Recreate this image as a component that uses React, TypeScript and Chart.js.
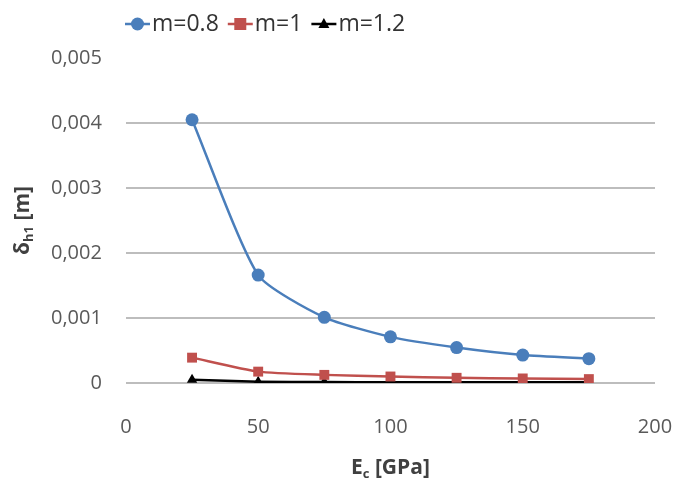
import React, { useEffect, useRef } from "react";
import { Chart, registerables } from "chart.js";

Chart.register(...registerables);

const xValues = [25, 50, 75, 100, 125, 150, 175];
const seriesM08 = [0.00405, 0.00166, 0.00101, 0.00071, 0.000545, 0.00043, 0.000375];
const seriesM1 = [0.00039, 0.000175, 0.000125, 0.0001, 0.00008, 0.00007, 0.00006];
const seriesM12 = [0.00005, 0.00002, 0.000015, 0.000012, 0.00001, 0.00001, 0.00001];
const seriesLabels = ["m=0.8", "m=1", "m=1.2"];
const yTicks = [0, 0.001, 0.002, 0.003, 0.004, 0.005];
const xTicks = [0, 50, 100, 150, 200];

const FONT = "'Open Sans', 'DejaVu Sans', sans-serif";
const BLUE = "#4A7EBB";
const RED = "#C0504D";
const BLACK = "#000000";

function drawMarker(ctx: CanvasRenderingContext2D, style: string, x: number, y: number, color: string) {
  ctx.save();
  ctx.fillStyle = color;
  ctx.beginPath();
  if (style === "circle") {
    ctx.arc(x, y, 6.5, 0, Math.PI * 2);
  } else if (style === "rect") {
    ctx.rect(x - 6, y - 6, 12, 12);
  } else {
    ctx.moveTo(x, y - 6);
    ctx.lineTo(x + 5.5, y + 4);
    ctx.lineTo(x - 5.5, y + 4);
    ctx.closePath();
  }
  ctx.fill();
  ctx.restore();
}

const customPlugin = {
  id: "customDecor",
  afterDraw(chart: any) {
    const ctx: CanvasRenderingContext2D = chart.ctx;
    const area = chart.chartArea;
    ctx.save();
    const items = [
      { label: seriesLabels[0], color: BLUE, style: "circle" },
      { label: seriesLabels[1], color: RED, style: "rect" },
      { label: seriesLabels[2], color: BLACK, style: "triangle" },
    ];
    ctx.font = `23px ${FONT}`;
    ctx.textBaseline = "middle";
    let x = 125;
    const ly = 24;
    for (const it of items) {
      ctx.strokeStyle = it.color;
      ctx.lineWidth = 2.5;
      ctx.beginPath();
      ctx.moveTo(x, ly);
      ctx.lineTo(x + 25, ly);
      ctx.stroke();
      drawMarker(ctx, it.style, x + 12.5, ly, it.color);
      ctx.fillStyle = "#333333";
      ctx.textAlign = "left";
      ctx.fillText(it.label, x + 27, ly);
      x += 27 + ctx.measureText(it.label).width + 9;
    }
    // x title
    ctx.fillStyle = "#404040";
    ctx.font = `bold 21px ${FONT}`;
    const cx = (area.left + area.right) / 2;
    const ty = 467;
    const wE = ctx.measureText("E").width;
    ctx.font = `bold 13px ${FONT}`;
    const wc = ctx.measureText("c").width;
    ctx.font = `bold 21px ${FONT}`;
    const wRest = ctx.measureText(" [GPa]").width;
    const sx = cx - (wE + wc + wRest) / 2;
    ctx.textAlign = "left";
    ctx.textBaseline = "alphabetic";
    ctx.fillText("E", sx, ty + 7);
    ctx.font = `bold 13px ${FONT}`;
    ctx.fillText("c", sx + wE, ty + 11);
    ctx.font = `bold 21px ${FONT}`;
    ctx.fillText(" [GPa]", sx + wE + wc, ty + 7);
    // y title
    ctx.save();
    ctx.translate(29, (area.top + area.bottom) / 2);
    ctx.rotate(-Math.PI / 2);
    ctx.font = `bold 21px ${FONT}`;
    const wd = ctx.measureText("δ").width;
    ctx.font = `bold 13px ${FONT}`;
    const wh = ctx.measureText("h1").width;
    ctx.font = `bold 21px ${FONT}`;
    const wm = ctx.measureText(" [m]").width;
    const sy = -(wd + wh + wm) / 2;
    ctx.fillText("δ", sy, 0);
    ctx.font = `bold 13px ${FONT}`;
    ctx.fillText("h1", sy + wd, 4);
    ctx.font = `bold 21px ${FONT}`;
    ctx.fillText(" [m]", sy + wd + wh, 0);
    ctx.restore();
    ctx.restore();
  },
};

const zeroPad = (axis: any) => {
  axis.paddingLeft = 0;
  axis.paddingRight = 0;
  axis.paddingTop = 0;
  axis.paddingBottom = 0;
};

export default function App() {
  const ref = useRef<HTMLCanvasElement>(null);
  useEffect(() => {
    if (!ref.current) return;
    const mk = (vals: number[]) => vals.map((v, i) => ({ x: xValues[i], y: v }));
    const common = { borderWidth: 2.5, pointBorderWidth: 0, tension: 0.2 };
    const chart = new Chart(ref.current, {
      type: "line",
      data: {
        datasets: [
          { ...common, label: seriesLabels[0], data: mk(seriesM08), borderColor: BLUE, backgroundColor: BLUE, pointStyle: "circle", pointRadius: 6.5 },
          { ...common, label: seriesLabels[1], data: mk(seriesM1), borderColor: RED, backgroundColor: RED, pointStyle: "rect", pointRadius: 7 },
          { ...common, label: seriesLabels[2], data: mk(seriesM12), borderColor: BLACK, backgroundColor: BLACK, pointStyle: "triangle", pointRadius: 6 },
        ],
      },
      options: {
        animation: false,
        responsive: false,
        maintainAspectRatio: false,
        layout: { padding: { top: 58, left: 27, right: 21, bottom: 10 } },
        plugins: { legend: { display: false }, tooltip: { enabled: false }, title: { display: false } },
        scales: {
          x: {
            type: "linear",
            min: 0,
            max: 200,
            afterBuildTicks: (axis: any) => {
              axis.ticks = xTicks.map((v) => ({ value: v }));
            },
            afterFit: zeroPad,
            grid: { display: false, drawTicks: false },
            border: { display: false },
            ticks: {
              color: "#595959",
              font: { family: FONT, size: 20 },
              padding: 32,
              maxRotation: 0,
              callback: (v: any) => String(v),
            },
          },
          y: {
            type: "linear",
            min: 0,
            max: 0.005,
            afterBuildTicks: (axis: any) => {
              axis.ticks = yTicks.map((v) => ({ value: v }));
            },
            afterFit: zeroPad,
            grid: {
              color: (c: any) => (c.tick && c.tick.value >= 0.0049 ? "rgba(0,0,0,0)" : "#BDBDBD"),
              lineWidth: 2,
              drawTicks: false,
            },
            border: { display: false },
            ticks: {
              color: "#595959",
              font: { family: FONT, size: 20 },
              padding: 24,
              callback: (v: any) => (v === 0 ? "0" : Number(v).toFixed(3).replace(".", ",")),
            },
          },
        },
      },
      plugins: [customPlugin],
    });
    return () => chart.destroy();
  }, []);
  return (
    <div style={{ position: "absolute", left: 0, top: 0, width: 676, height: 481, background: "#fff" }}>
      <canvas ref={ref} width={676} height={481} style={{ width: 676, height: 481 }} />
    </div>
  );
}
